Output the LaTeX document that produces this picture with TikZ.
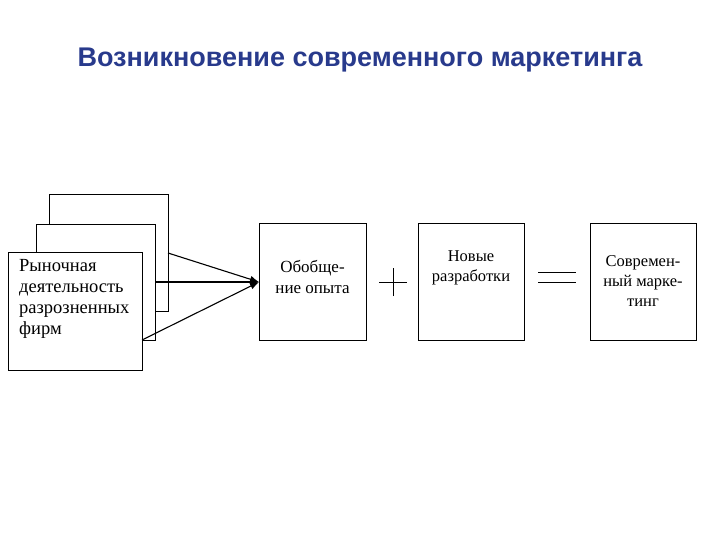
\documentclass[tikz,border=0pt]{standalone}
\usepackage{fontspec}
\usetikzlibrary{arrows.meta}
\setmainfont{Liberation Serif}
\newfontfamily\titlefont{Liberation Sans}
\definecolor{ttl}{RGB}{40,58,140}
\begin{document}
\begin{tikzpicture}[x=1pt,y=-1pt,
  box/.style={draw,line width=0.9pt,fill=white},
  lbl/.style={font=\fontsize{17}{21}\selectfont,align=center},
  arr/.style={line width=1.1pt,-{Latex[length=9pt,width=7pt]}},
  sym/.style={line width=0.6pt}]
\useasboundingbox (0,0) rectangle (720,540);
\node[font=\titlefont\bfseries\fontsize{27}{30}\selectfont,text=ttl] (title) at (360,60) {Возникновение современного маркетинга};
\draw[box] (49,194) rectangle (168,311);
\draw[box] (36,224) rectangle (155,340);
\draw[box] (8,252) rectangle (142,370);
\node[lbl,align=left,anchor=north west,font=\fontsize{18.5}{21}\selectfont,inner sep=0pt] (front) at (19,259) {Рыночная\\деятельность\\разрозненных\\фирм};
\draw[box] (259,223) rectangle (366,340);
\node[lbl] (gen) at (312.5,277) {Обобще-\\ние опыта};
\draw[box] (418,223) rectangle (524,340);
\node[lbl,font=\fontsize{16.5}{20}\selectfont] (new) at (471,268) {Новые\\разработки};
\draw[box] (590,223) rectangle (696,340);
\node[lbl,font=\fontsize{16.5}{20}\selectfont] (mod) at (643,281) {Современ-\\ный марке-\\тинг};
\coordinate (tip) at (259,282);
\coordinate (s1) at (168,253);
\coordinate (s2) at (155,282);
\coordinate (s3) at (142,340);
\draw[arr] (s1) -- (tip);
\draw[arr] (s2) -- (tip);
\draw[arr] (s3) -- (tip);
\coordinate (p) at (393,282);
\draw[sym] ([xshift=-14pt]p) -- ([xshift=14pt]p);
\draw[sym] ([yshift=-14pt]p) -- ([yshift=14pt]p);
\coordinate (e) at (557,277);
\draw[sym] ([xshift=-19pt,yshift=-5pt]e) -- ([xshift=19pt,yshift=-5pt]e);
\draw[sym] ([xshift=-19pt,yshift=5pt]e) -- ([xshift=19pt,yshift=5pt]e);
\end{tikzpicture}
\end{document}
